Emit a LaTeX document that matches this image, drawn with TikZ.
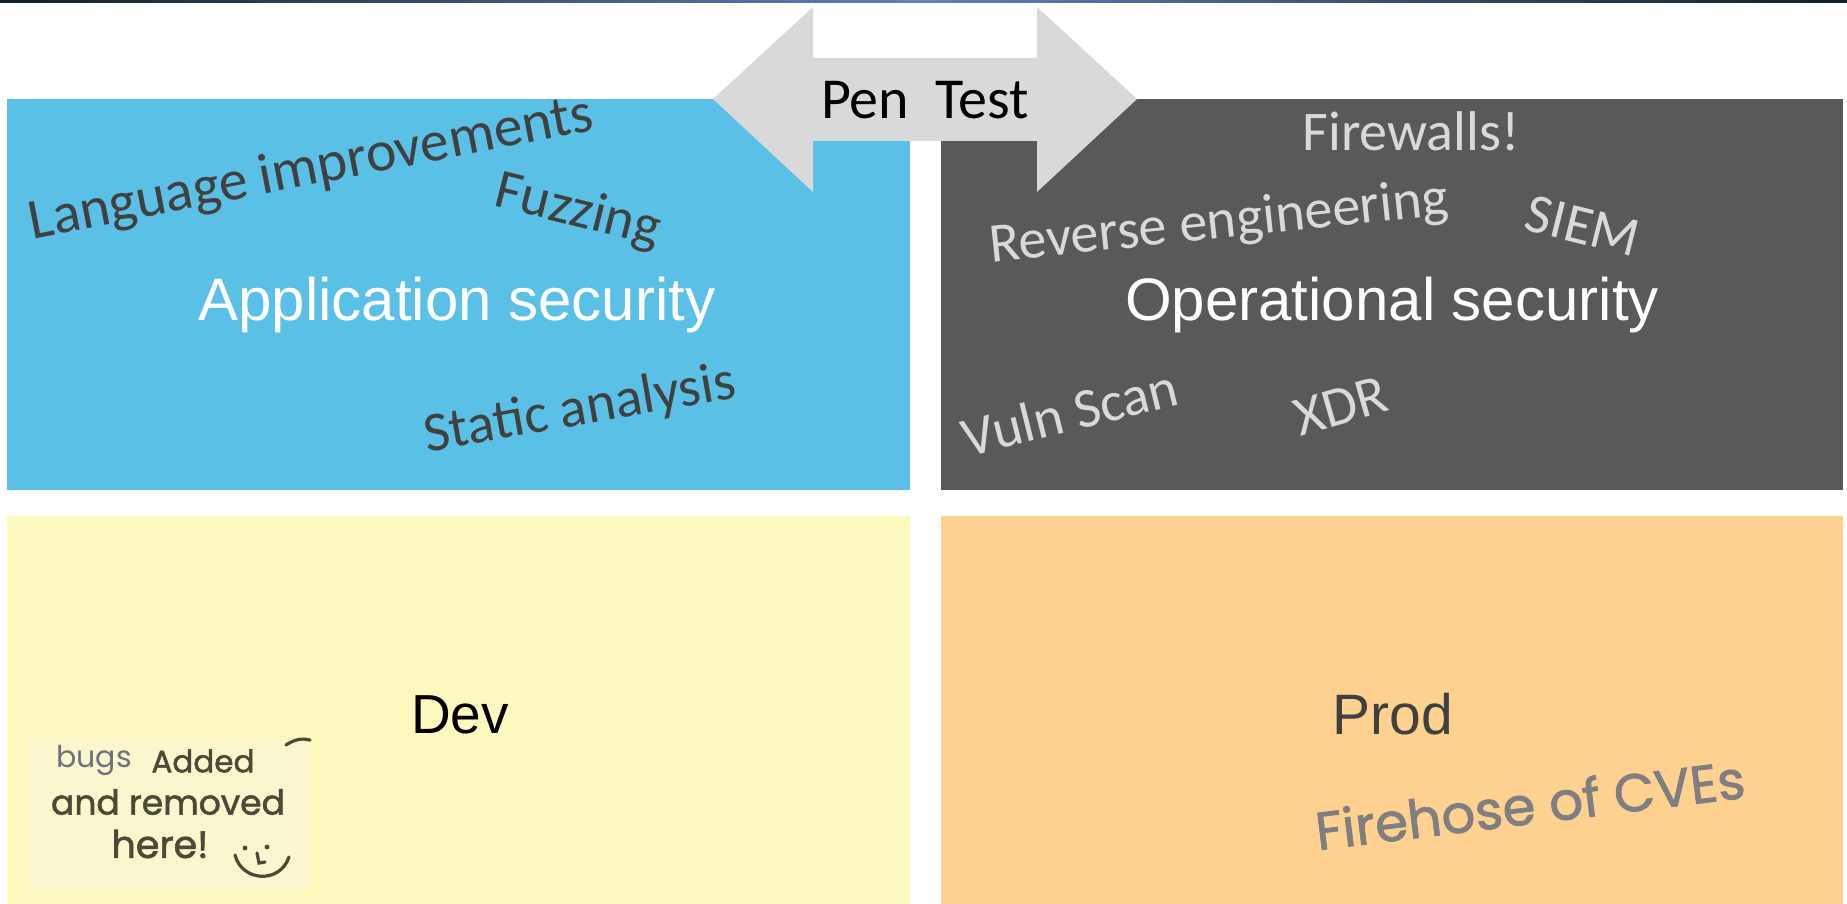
\documentclass[tikz,border=0pt]{standalone}
\usepackage{fontspec}
\newfontfamily\calib{Carlito}
\newfontfamily\helv{Liberation Sans}
\newfontfamily\hand{Poppins}
\newfontfamily\handpen[FakeBold=1.6]{Poppins}
\definecolor{appblue}{HTML}{5BC0E6}
\definecolor{opgray}{HTML}{595959}
\definecolor{devyellow}{HTML}{FCF9BE}
\definecolor{noteyellow}{HTML}{FAF7CE}
\definecolor{prodorange}{HTML}{FED191}
\definecolor{arrowgray}{HTML}{D9D9D9}
\definecolor{darktext}{HTML}{404040}
\definecolor{lighttext}{HTML}{D9D9D9}
\definecolor{ink}{HTML}{4A4A36}
\definecolor{bugink}{HTML}{6F6F7D}
\definecolor{hoseink}{HTML}{7F7F7F}
\definecolor{barnavy}{HTML}{141C2E}
\definecolor{barlight}{HTML}{6382B2}
\begin{document}
\begin{tikzpicture}[x=1pt,y=-1pt,
  panel/.style={draw=none, inner sep=0pt, anchor=north west},
  tag/.style={font=\calib\fontsize{56}{60}\selectfont, inner sep=0pt},
  title/.style={font=\helv\fontsize{60}{64}\selectfont, inner sep=0pt, text=white, anchor=base},
  handnote/.style={inner sep=0pt, text=ink},
  inkline/.style={draw=ink, line width=3.2pt, line cap=round}]
\useasboundingbox (0,0) rectangle (1847,904);
\fill[white] (0,0) rectangle (1847,904);

% thin banner strip along the top edge
\shade[left color=barnavy, right color=barlight] (0,0) rectangle (920,3);
\shade[left color=barlight, right color=barnavy] (920,0) rectangle (1847,3);

% four quadrants
\node[panel, fill=appblue, minimum width=903pt, minimum height=391pt] (app) at (7,99) {};
\node[panel, fill=opgray, minimum width=902pt, minimum height=391pt] (ops) at (941,99) {};
\node[panel, fill=devyellow, minimum width=903pt, minimum height=388pt] (dev) at (7,516) {};
\node[panel, fill=prodorange, minimum width=902pt, minimum height=388pt] (prod) at (941,516) {};

% double arrow spanning both security areas
\fill[arrowgray] (713,99) -- (813,7) -- (813,58) -- (1037,58) -- (1037,7) -- (1137,99)
  -- (1037,192) -- (1037,141) -- (813,141) -- (813,192) -- cycle;
\node[font=\calib\fontsize{58}{62}\selectfont, inner sep=0pt, anchor=base] (pen) at (925,119) {Pen\ \ Test};

% application security
\node[tag, font=\calib\fontsize{57.5}{62}\selectfont, text=darktext, rotate=11] (lang) at (311,170) {Language improvements};
\node[tag, text=darktext, rotate=-14] (fuzz) at (578,212) {Fuzzing};
\node[title] (apptitle) at (457,320) {Application security};
\node[tag, text=darktext, rotate=10] (static) at (580,410) {Static analysis};

% operational security
\node[tag, text=lighttext, anchor=base] (fw) at (1411,151) {Firewalls!};
\node[tag, text=lighttext, rotate=6] (rev) at (1219,224) {Reverse engineering};
\node[tag, text=lighttext, rotate=-14] (siem) at (1583,226) {SIEM};
\node[title] (optitle) at (1392,320) {Operational security};
\node[tag, text=lighttext, rotate=14] (vuln) at (1070,412) {Vuln Scan};
\node[tag, text=lighttext, rotate=16] (xdr) at (1341,406) {XDR};

% dev / prod labels
\node[font=\helv\fontsize{55}{58}\selectfont, inner sep=0pt, anchor=base] (devlabel) at (460,733) {Dev};
\node[font=\helv\fontsize{57}{60}\selectfont, inner sep=0pt, anchor=base, text=darktext] (prodlabel) at (1393,734) {Prod};

% handwritten note in the dev area
\fill[noteyellow] (28,738) rectangle (310,888);
\node[handnote, font=\hand\fontsize{30}{34}\selectfont, text=bugink] (bugs) at (94,760) {bugs};
\node[handnote, font=\handpen\fontsize{31}{34}\selectfont] (added) at (203,761) {Added};
\node[handnote, font=\handpen\fontsize{34.5}{38}\selectfont] (removed) at (168,802) {and removed};
\node[handnote, font=\handpen\fontsize{38}{42}\selectfont] (here) at (160,844) {here!};
\fill[ink] (245,848) circle (2.4);
\fill[ink] (267,847) circle (2.4);
\draw[inkline] (257,853) -- (259,863) -- (265,862);
\draw[inkline] (235,855) .. controls (242,882) and (280,884) .. (289,857);
\draw[inkline] (286,745) .. controls (295,739) and (303,738) .. (310,740);

% handwritten remark in the prod area
\node[font=\handpen\fontsize{53}{56}\selectfont, inner sep=0pt, text=hoseink, rotate=7] (cves) at (1530,804) {Firehose of CVEs};
\end{tikzpicture}
\end{document}
